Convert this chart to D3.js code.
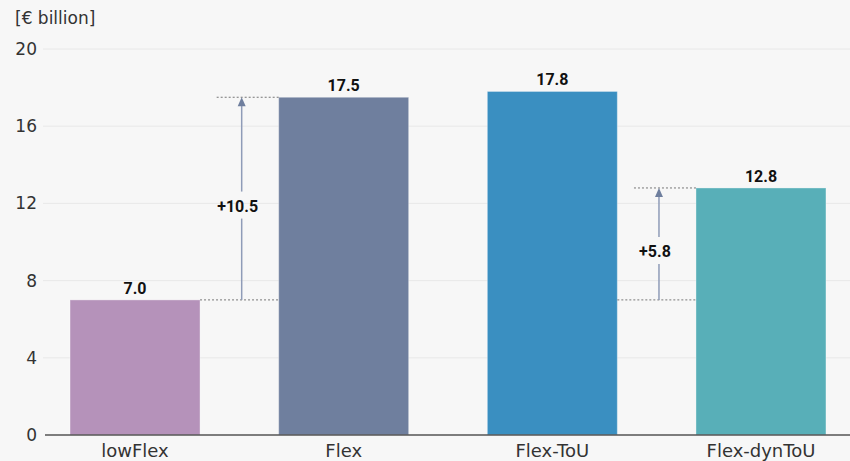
<!DOCTYPE html>
<html><head><meta charset="utf-8">
<script src="https://cdn.jsdelivr.net/npm/d3@7"></script>
<style>
html,body{margin:0;padding:0;background:#f7f7f7;}
svg{display:block;}
</style></head>
<body>
<svg id="c" width="850" height="461"></svg>
<script>
const categories = ["lowFlex","Flex","Flex-ToU","Flex-dynToU"];
const values = [7.0, 17.5, 17.8, 12.8];
const colors = ["#b592ba","#6f7f9e","#3a8fc1","#58afb8"];
const yTicks = [0,4,8,12,16,20];
const unitLabel = "[€ billion]";
// annotations: from category index (base) to target index
const deltas = [
  {from:0, to:1, label:"+10.5"},
  {from:0, to:3, label:"+5.8"}
];

const W=850,H=461;
const svg=d3.select("#c");
const x=d3.scaleBand().domain(categories).range([45,851]).paddingInner(0.377).paddingOuter(0.12);
const y=d3.scaleLinear().domain([0,20]).range([435,49]);
const regFont='"DejaVu Sans", sans-serif';
const boldFont='Roboto, "DejaVu Sans", sans-serif';

// grid
svg.append("g").selectAll("line").data(yTicks.filter(d=>d>0)).join("line")
  .attr("x1",43).attr("x2",850).attr("y1",d=>y(d)).attr("y2",d=>y(d))
  .attr("stroke","#e8e8e8").attr("stroke-width",1);

// y axis labels
const ya=svg.append("g").attr("transform","translate(37,0)")
  .call(d3.axisLeft(y).tickValues(yTicks).tickSize(0).tickPadding(0).tickFormat(d3.format("d")));
ya.select(".domain").remove();
ya.selectAll("text").style("font-size","17px").style("font-family",regFont).attr("fill","#333");

svg.append("text").attr("x",15).attr("y",24).style("font-size","17px").style("font-family",regFont)
  .attr("fill","#333").text(unitLabel);

// bars
svg.append("g").selectAll("rect").data(categories).join("rect")
  .attr("x",d=>x(d)).attr("width",x.bandwidth())
  .attr("y",(d,i)=>y(values[i])).attr("height",(d,i)=>y(0)-y(values[i]))
  .attr("fill",(d,i)=>colors[i]).attr("stroke","#ffffff").attr("stroke-opacity",0.35).attr("stroke-width",1);

// value labels
svg.append("g").selectAll("text").data(categories).join("text")
  .attr("x",d=>x(d)+x.bandwidth()/2).attr("y",(d,i)=>y(values[i])-6)
  .attr("text-anchor","middle").style("font-size","16px").style("font-weight","bold")
  .style("font-family",boldFont).attr("fill","#111")
  .text((d,i)=>values[i].toFixed(1));

// x axis
svg.append("line").attr("x1",45).attr("x2",850).attr("y1",y(0)).attr("y2",y(0))
  .attr("stroke","#555").attr("stroke-width",1.5);
svg.append("g").selectAll("text").data(categories).join("text")
  .attr("x",d=>x(d)+x.bandwidth()/2).attr("y",457)
  .attr("text-anchor","middle").style("font-size","18px").style("font-family",regFont)
  .attr("fill","#333").text(d=>d);

// annotations
const ag=svg.append("g");
deltas.forEach(dl=>{
  const base=values[dl.from], top=values[dl.to];
  const tgt=categories[dl.to];
  const prevRight = x(categories[dl.to-1])+x.bandwidth();
  const ax = x(tgt) - 37;
  ag.append("line").attr("x1",prevRight).attr("x2",x(tgt)).attr("y1",y(base)).attr("y2",y(base))
    .attr("stroke","#777").attr("stroke-width",1).attr("stroke-dasharray","2,2");
  ag.append("line").attr("x1",ax-25).attr("x2",x(tgt)).attr("y1",y(top)).attr("y2",y(top))
    .attr("stroke","#777").attr("stroke-width",1).attr("stroke-dasharray","2,2");
  const mid=(y(base)+y(top))/2 + 7;
  ag.append("line").attr("x1",ax).attr("x2",ax).attr("y1",y(base)).attr("y2",mid+13)
    .attr("stroke","#8f9cb8").attr("stroke-width",1.5);
  ag.append("line").attr("x1",ax).attr("x2",ax).attr("y1",mid-14).attr("y2",y(top)+6)
    .attr("stroke","#8f9cb8").attr("stroke-width",1.5);
  ag.append("path").attr("d",`M${ax},${y(top)} L${ax-4},${y(top)+9} L${ax+4},${y(top)+9} Z`).attr("fill","#6f7f9e");
  ag.append("text").attr("x",ax-4).attr("y",mid+6).attr("text-anchor","middle")
    .style("font-size","16px").style("font-weight","bold").style("font-family",boldFont).attr("fill","#111")
    .text(dl.label);
});
</script>
</body></html>
